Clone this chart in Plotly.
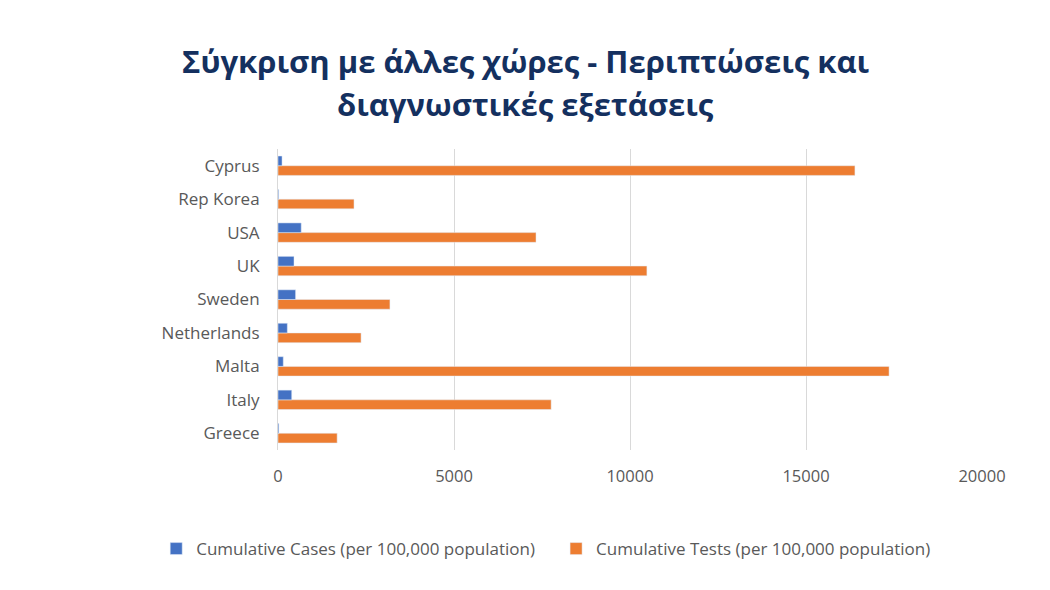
import plotly.graph_objects as go

countries = ["Greece", "Italy", "Malta", "Netherlands", "Sweden", "UK", "USA", "Rep Korea", "Cyprus"]
cases = [25, 390, 150, 265, 500, 455, 660, 20, 115]
tests = [1680, 7760, 17360, 2360, 3180, 10480, 7330, 2160, 16390]
tickVals = [0, 5000, 10000, 15000, 20000]
tickText = ["0", "5000", "10000", "15000", "20000"]

titleLine1 = "Σύγκριση με άλλες χώρες - Περιπτώσεις και"
titleLine2 = "διαγνωστικές εξετάσεις"

fig = go.Figure()

# tests first so the cases bar sits above it in each group
fig.add_trace(go.Bar(
    y=countries, x=tests, orientation="h",
    name="Cumulative Tests (per 100,000 population)",
    marker=dict(color="#ED7D31"), legend="legend2"
))
fig.add_trace(go.Bar(
    y=countries, x=cases, orientation="h",
    name="Cumulative Cases (per 100,000 population)",
    marker=dict(color="#4472C4"), legend="legend"
))

legendStyle = dict(
    orientation="h", yanchor="middle", y=-0.329, xanchor="left",
    font=dict(size=17), bgcolor="rgba(0,0,0,0)"
)

fig.update_layout(
    width=1050, height=590,
    paper_bgcolor="white", plot_bgcolor="white",
    font=dict(family="Open Sans", color="#595959", size=16),
    title=dict(
        text="<b>" + titleLine1 + "</b>",
        xref="container", x=0.493, xanchor="center",
        yref="container", y=0.909, yanchor="middle",
        font=dict(family="Open Sans", size=31, color="#14305F")
    ),
    annotations=[dict(
        text="<b>" + titleLine2 + "</b>",
        xref="paper", yref="paper", x=0.352, y=1.15,
        xanchor="center", yanchor="middle", showarrow=False,
        font=dict(family="Open Sans", size=31, color="#14305F")
    )],
    barmode="group", bargap=0.42, bargroupgap=0.0,
    margin=dict(l=270, r=76, t=141, b=148),
    xaxis=dict(
        range=[0, 20000], tickvals=tickVals, ticktext=tickText, showgrid=True,
        gridcolor="#D9D9D9", gridwidth=1, zeroline=False,
        showline=False, ticks="", ticklabelstandoff=14, tickfont=dict(size=16.5)
    ),
    yaxis=dict(
        showline=True, linecolor="#D9D9D9", linewidth=1,
        ticks="", ticklabelstandoff=14, tickfont=dict(size=17)
    ),
    legend=dict(legendStyle, x=-0.173),
    legend2=dict(legendStyle, x=0.395),
    showlegend=True
)

fig.write_html("out.html")
